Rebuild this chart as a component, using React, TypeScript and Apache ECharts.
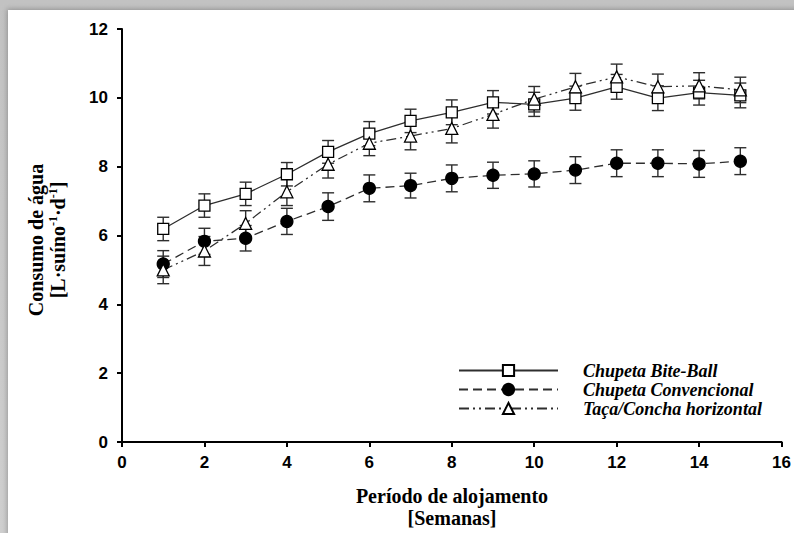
import React, { useEffect, useRef } from "react";
import * as echarts from "echarts";

const weeks = [1, 2, 3, 4, 5, 6, 7, 8, 9, 10, 11, 12, 13, 14, 15];
const biteBall = [6.19, 6.87, 7.21, 7.78, 8.43, 8.96, 9.33, 9.58, 9.87, 9.81, 9.99, 10.32, 9.99, 10.15, 10.07];
const biteBallErr = [0.34, 0.34, 0.34, 0.34, 0.33, 0.35, 0.34, 0.36, 0.34, 0.35, 0.35, 0.36, 0.36, 0.36, 0.36];
const convencional = [5.17, 5.83, 5.92, 6.41, 6.84, 7.37, 7.45, 7.66, 7.75, 7.79, 7.9, 8.1, 8.1, 8.08, 8.16];
const convencionalErr = [0.39, 0.38, 0.37, 0.38, 0.4, 0.39, 0.36, 0.39, 0.38, 0.38, 0.39, 0.39, 0.39, 0.39, 0.39];
const taca = [5.0, 5.55, 6.35, 7.27, 8.07, 8.68, 8.89, 9.11, 9.52, 9.96, 10.32, 10.61, 10.32, 10.35, 10.23];
const tacaErr = [0.4, 0.42, 0.37, 0.4, 0.4, 0.36, 0.4, 0.42, 0.4, 0.37, 0.39, 0.37, 0.37, 0.38, 0.37];

const seriesNames = ["Chupeta Bite-Ball", "Chupeta Convencional", "Taça/Concha horizontal"];
const xTicks = { min: 0, max: 16, interval: 2 };
const yTicks = { min: 0, max: 12, interval: 2 };

const INK = "#000000";
const LINE = "#2e2e2e";
const SERIF = "'Liberation Serif', 'Times New Roman', serif";
const SANS = "'Liberation Sans', Arial, sans-serif";

function errData(vals: number[], errs: number[]) {
  return weeks.map((w, i) => [w, vals[i] - errs[i], vals[i] + errs[i]]);
}

function errorSeries(vals: number[], errs: number[]) {
  return {
    type: "custom",
    z: 1,
    silent: true,
    data: errData(vals, errs),
    encode: { x: 0, y: [1, 2] },
    renderItem: (_params: any, api: any) => {
      const x = api.value(0);
      const p1 = api.coord([x, api.value(1)]);
      const p2 = api.coord([x, api.value(2)]);
      const hw = 6;
      const style = { stroke: LINE, lineWidth: 1.4 };
      return {
        type: "group",
        children: [
          { type: "line", shape: { x1: p1[0], y1: p1[1], x2: p2[0], y2: p2[1] }, style },
          { type: "line", shape: { x1: p1[0] - hw, y1: p1[1], x2: p1[0] + hw, y2: p1[1] }, style },
          { type: "line", shape: { x1: p2[0] - hw, y1: p2[1], x2: p2[0] + hw, y2: p2[1] }, style },
        ],
      };
    },
  };
}

function lineSeries(name: string, vals: number[], symbol: string, fill: string, dash: any, size: number) {
  return {
    type: "line",
    name,
    z: 3,
    color: INK,
    data: weeks.map((w, i) => [w, vals[i]]),
    symbol,
    symbolSize: size,
    showAllSymbol: true,
    lineStyle: { color: LINE, width: 1.3, type: dash },
    itemStyle: { color: fill, borderColor: INK, borderWidth: 1.3 },
    emphasis: { disabled: true },
  };
}

export default function App() {
  const ref = useRef<HTMLDivElement>(null);
  useEffect(() => {
    if (!ref.current) return;
    const chart = echarts.init(ref.current, null, { renderer: "svg" });
    chart.setOption({
      animation: false,
      backgroundColor: "transparent",
      grid: { left: 122, right: 11, top: 29, bottom: 91 },
      xAxis: {
        type: "value",
        min: xTicks.min,
        max: xTicks.max,
        interval: xTicks.interval,
        splitLine: { show: false },
        axisLine: { show: true, onZero: false, lineStyle: { color: "#000", width: 2 } },
        axisTick: { show: true, inside: false, length: 5, lineStyle: { color: "#000", width: 2 } },
        axisLabel: { color: INK, fontFamily: SANS, fontWeight: "bold", fontSize: 17, margin: 12 },
      },
      yAxis: {
        type: "value",
        min: yTicks.min,
        max: yTicks.max,
        interval: yTicks.interval,
        splitLine: { show: false },
        axisLine: { show: true, onZero: false, lineStyle: { color: "#000", width: 2 } },
        axisTick: { show: true, inside: false, length: 5, lineStyle: { color: "#000", width: 2 } },
        axisLabel: { color: INK, fontFamily: SANS, fontWeight: "bold", fontSize: 17, margin: 14 },
      },
      legend: {
        data: seriesNames,
        orient: "vertical",
        left: 458,
        top: 361,
        padding: 0,
        itemWidth: 99,
        itemHeight: 14,
        itemGap: 0,
        selectedMode: false,
        textStyle: {
          color: INK,
          fontFamily: SERIF,
          fontStyle: "italic",
          fontWeight: "bold",
          fontSize: 18,
          lineHeight: 19,
          padding: [0, 0, 0, 20],
        },
      },
      graphic: [
        {
          type: "text",
          x: 47,
          y: 240,
          rotation: Math.PI / 2,
          silent: true,
          style: {
            text: "{t|Consumo de água}\n{t|[L·suíno}{s|-1}{t|·d}{s|-1}{t|]}",
            align: "center",
            verticalAlign: "middle",
            fill: INK,
            rich: {
              t: { fontFamily: SERIF, fontWeight: "bold", fontSize: 20, lineHeight: 22, fill: INK },
              s: { fontFamily: SERIF, fontWeight: "bold", fontSize: 12, lineHeight: 14, verticalAlign: "top", fill: INK },
            },
          },
        },
        {
          type: "text",
          x: 452,
          y: 507,
          silent: true,
          style: {
            text: "Período de alojamento\n[Semanas]",
            align: "center",
            verticalAlign: "middle",
            fill: INK,
            fontFamily: SERIF,
            fontWeight: "bold",
            fontSize: 20,
            lineHeight: 22,
          },
        },
      ],
      series: [
        errorSeries(biteBall, biteBallErr),
        errorSeries(convencional, convencionalErr),
        errorSeries(taca, tacaErr),
        lineSeries(seriesNames[0], biteBall, "rect", "#ffffff", "solid", 11),
        lineSeries(seriesNames[1], convencional, "circle", "#000000", [9, 5], 12),
        lineSeries(seriesNames[2], taca, "triangle", "#ffffff", [10, 4, 2, 4, 2, 4], 12),
      ],
    });
    return () => chart.dispose();
  }, []);

  return (
    <div style={{ position: "absolute", left: 0, top: 0, width: 794, height: 533, overflow: "hidden", background: "linear-gradient(to bottom, #c2c2c2, #cfcfcf)" }}>
      <div style={{ position: "absolute", left: 8, top: 10, width: 800, height: 540, background: "#ffffff", boxShadow: "0 0 5px 1px rgba(0,0,0,0.25)" }} />
      <div ref={ref} style={{ position: "absolute", left: 0, top: 0, width: 794, height: 533 }} />
    </div>
  );
}
